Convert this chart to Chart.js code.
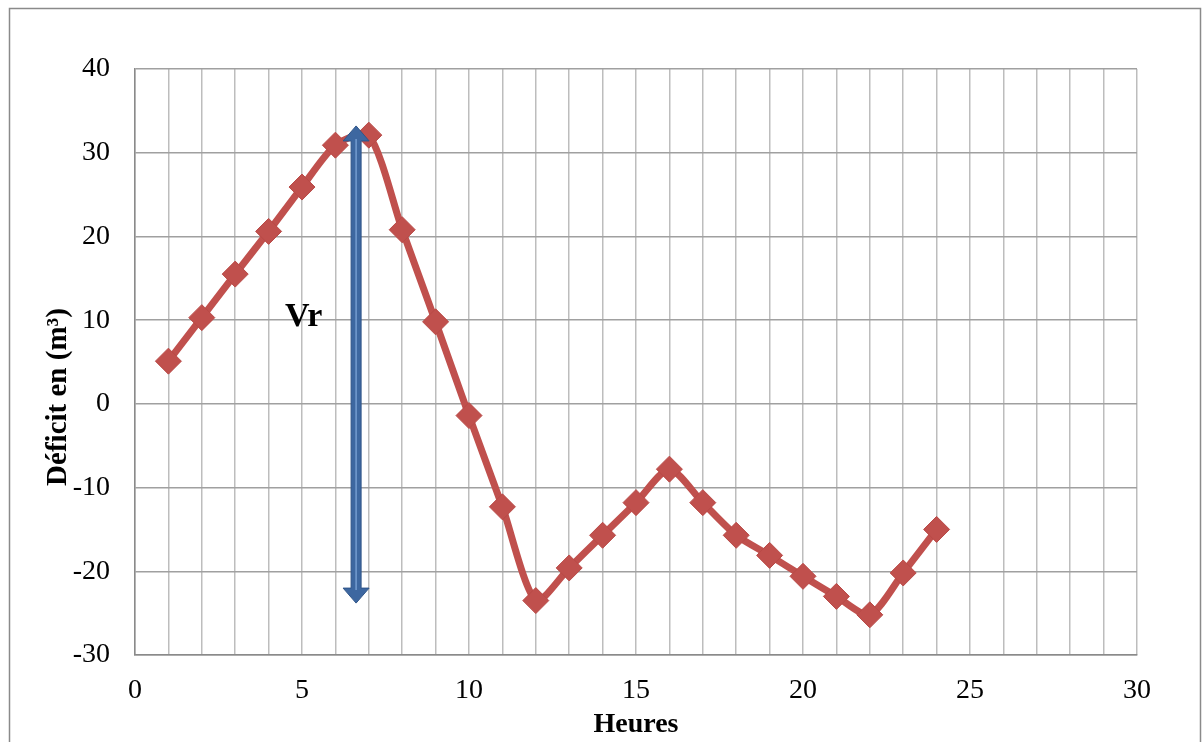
<!DOCTYPE html>
<html>
<head>
<meta charset="utf-8">
<script src="https://cdn.jsdelivr.net/npm/chart.js@4"></script>
<style>
html,body{margin:0;padding:0;background:#fff;}
#wrap{width:1202px;height:742px;position:relative;}
</style>
</head>
<body>
<div id="wrap"><canvas id="c" width="1202" height="742"></canvas></div>
<script>
const hours = [1,2,3,4,5,6,7,8,9,10,11,12,13,14,15,16,17,18,19,20,21,22,23,24];
const deficit = [5.1,10.3,15.5,20.6,25.9,30.9,32.1,20.8,9.8,-1.4,-12.3,-23.5,-19.6,-15.7,-11.8,-7.8,-11.8,-15.7,-18.1,-20.6,-23.0,-25.2,-20.2,-15.0];
const arrowX = 6.62;
const arrowTop = 33.2;
const arrowBottom = -23.8;
const arrowLabel = 'Vr';
const labelPos = [5.05, 10.3];
const xTitle = 'Heures';
const yTitle = 'Déficit en (m³)';

const serif = "'Liberation Serif','Times New Roman',serif";

const framePlugin = {
  id: 'frame',
  beforeDraw(chart) {
    const ctx = chart.ctx;
    ctx.save();
    ctx.fillStyle = '#fff';
    ctx.fillRect(0, 0, chart.width, chart.height);
    ctx.strokeStyle = '#8a8a8a';
    ctx.lineWidth = 1.5;
    ctx.beginPath();
    ctx.moveTo(9.5, 745);
    ctx.lineTo(9.5, 8.5);
    ctx.lineTo(1200.5, 8.5);
    ctx.lineTo(1200.5, 745);
    ctx.stroke();
    ctx.restore();
  },
  afterDraw(chart) {
    const ctx = chart.ctx;
    ctx.save();
    ctx.translate(59, 397);
    ctx.rotate(-Math.PI / 2);
    ctx.font = "bold 29px " + serif;
    ctx.fillStyle = '#000';
    ctx.textAlign = 'center';
    ctx.textBaseline = 'middle';
    ctx.fillText(yTitle, 0, 0);
    ctx.restore();
  }
};

const arrowPlugin = {
  id: 'arrowVr',
  afterDatasetsDraw(chart) {
    const ctx = chart.ctx;
    const xs = chart.scales.x, ys = chart.scales.y;
    const x = xs.getPixelForValue(arrowX);
    const yT = ys.getPixelForValue(arrowTop);
    const yB = ys.getPixelForValue(arrowBottom);
    const hw = 13, hh = 15, sw = 5;
    ctx.save();
    ctx.beginPath();
    ctx.moveTo(x, yT);
    ctx.lineTo(x + hw, yT + hh);
    ctx.lineTo(x + sw, yT + hh);
    ctx.lineTo(x + sw, yB - hh);
    ctx.lineTo(x + hw, yB - hh);
    ctx.lineTo(x, yB);
    ctx.lineTo(x - hw, yB - hh);
    ctx.lineTo(x - sw, yB - hh);
    ctx.lineTo(x - sw, yT + hh);
    ctx.lineTo(x - hw, yT + hh);
    ctx.closePath();
    ctx.fillStyle = '#3d67a0';
    ctx.fill();
    ctx.strokeStyle = '#2f5589';
    ctx.lineWidth = 1;
    ctx.stroke();
    ctx.beginPath();
    ctx.moveTo(x, yT + hh - 2);
    ctx.lineTo(x, yB - hh + 2);
    ctx.strokeStyle = 'rgba(130,170,220,0.8)';
    ctx.lineWidth = 1.5;
    ctx.stroke();
    ctx.font = "bold 34px " + serif;
    ctx.fillStyle = '#000';
    ctx.textAlign = 'center';
    ctx.textBaseline = 'middle';
    ctx.fillText(arrowLabel, xs.getPixelForValue(labelPos[0]), ys.getPixelForValue(labelPos[1]));
    ctx.restore();
  }
};

new Chart(document.getElementById('c'), {
  type: 'scatter',
  data: {
    datasets: [{
      data: hours.map((h, i) => ({x: h, y: deficit[i]})),
      showLine: true,
      borderColor: '#c0504d',
      backgroundColor: '#c0504d',
      borderWidth: 7,
      tension: 0.25,
      pointStyle: 'rectRot',
      pointRadius: 13,
      pointHoverRadius: 13,
      pointBorderWidth: 1,
      pointBorderColor: '#b94a47',
      pointBackgroundColor: '#c0504d'
    }]
  },
  options: {
    responsive: false,
    animation: false,
    events: [],
    layout: {padding: {left: 0, top: 69, right: 65, bottom: 0}},
    plugins: {legend: {display: false}, tooltip: {enabled: false}},
    scales: {
      x: {
        type: 'linear', min: 0, max: 30,
        afterFit(s) { s.height = 87; },
        grid: {color: '#bdbdbd', lineWidth: 1.5, drawTicks: false},
        border: {color: '#8a8a8a', width: 1.5},
        ticks: {
          stepSize: 1, autoSkip: false, maxRotation: 0,
          padding: 19,
          color: '#000',
          font: {family: serif, size: 28},
          callback: v => (v % 5 === 0 ? String(v) : '')
        },
        title: {display: true, text: xTitle, color: '#000', font: {family: serif, size: 28, weight: 'bold'}, padding: {top: 0, bottom: 0}}
      },
      y: {
        type: 'linear', min: -30, max: 40,
        afterFit(s) { s.width = 135; },
        grid: {color: '#a0a0a0', lineWidth: 1.5, drawTicks: false},
        border: {color: '#8a8a8a', width: 1.5},
        ticks: {
          stepSize: 10, padding: 25, color: '#000',
          font: {family: serif, size: 28}
        },
        title: {display: false}
      }
    }
  },
  plugins: [framePlugin, arrowPlugin]
});
</script>
</body>
</html>
